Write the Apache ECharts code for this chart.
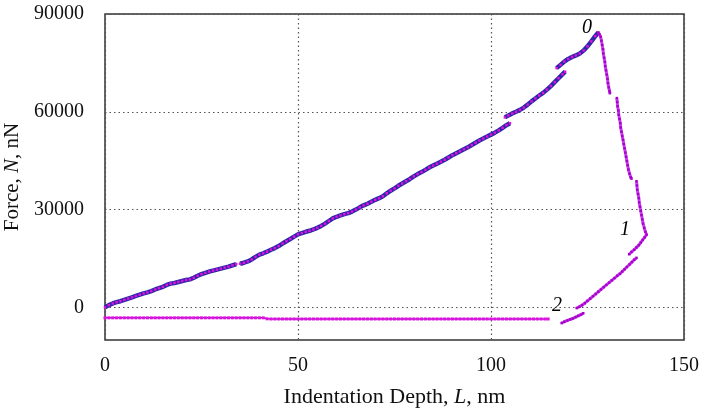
<!DOCTYPE html>
<html>
<head>
<meta charset="utf-8">
<script src="https://cdn.jsdelivr.net/npm/echarts@6/dist/echarts.min.js"></script>
<style>
  html, body { margin: 0; padding: 0; background: #fff; }
  #main { width: 701px; height: 412px; }
</style>
</head>
<body>
<div id="main"></div>
<script>
// loading branch (nm, nN), split where the curve jumps
var loadA = [[0,0],[1,700],[2,1200],[3,1600],[4,1900],[5,2300],[6,2700],[7,3100],[8,3500],[9,3900],[10,4300],[11,4600],[12,5000],[13,5500],[14,5900],[15,6300],[16,6900],[17,7300],[18,7500],[19,7800],[20,8100],[21,8400],[22,8600],[23,9100],[24,9700],[25,10200],[26,10600],[27,11000],[28,11300],[29,11600],[30,11900],[31,12200],[32,12500],[33,12900],[34,13300]];
var loadB = [[35,13400],[36,13700],[37,14100],[38,14700],[39,15500],[40,16200],[41,16600],[42,17100],[43,17700],[44,18200],[45,18800],[46,19600],[47,20300],[48,21000],[49,21700],[50,22400],[51,22800],[52,23200],[53,23500],[54,23900],[55,24400],[56,25000],[57,25700],[58,26500],[59,27300],[60,27800],[61,28200],[62,28600],[63,28900],[64,29400],[65,30000],[66,30700],[67,31300],[68,31800],[69,32400],[70,33000],[71,33500],[72,34100],[73,35000],[74,35800],[75,36500],[76,37300],[77,38000],[78,38700],[79,39400],[80,40200],[81,40900],[82,41500],[83,42200],[84,42900],[85,43500],[86,44100],[87,44700],[88,45300],[89,46000],[90,46700],[91,47300],[92,47900],[93,48500],[94,49100],[95,49800],[96,50500],[97,51200],[98,51800],[99,52400],[100,53000],[101,53600],[102,54300],[103,55100],[104,55900],[104.9,56500]];
var loadC = [[103.6,58300],[104.5,58900],[105.5,59500],[106.5,60000],[107.5,60600],[108.5,61300],[109.5,62200],[110.5,63200],[111.5,64100],[112.5,65000],[113.5,65800],[114.5,66800],[115.5,67900],[116.5,69100],[117.5,70300],[118.5,71500],[119.2,72300]];
var loadD = [[117,73400],[118,74400],[119,75400],[120,76200],[121,76800],[122,77300],[123,77900],[124,78800],[125,80100],[126,81600],[127,83200],[127.8,84300]];

// unloading branch
var unload1 = [[127.8,84300],[128.1,83800],[128.4,83000],[128.6,81800],[128.8,80500],[129.0,79200],[129.1,77900],[129.3,76600],[129.5,75300],[129.6,74000],[129.8,72700],[130.0,71400],[130.2,70100],[130.3,68800],[130.5,67500],[130.7,66400],[130.8,65700]];
var unload2 = [[132.6,64200],[132.7,63000],[132.8,61700],[133.0,60400],[133.1,59100],[133.3,57800],[133.5,56500],[133.6,55200],[133.8,53900],[134.0,52600],[134.2,51400],[134.4,50100],[134.6,48800],[134.8,47500],[135.0,46200],[135.2,44900],[135.4,43600],[135.6,42300],[135.9,41000],[136.2,39900],[136.4,39500]];
var unload3 = [[137.7,38700],[137.8,37400],[137.9,36100],[138.1,34800],[138.3,33500],[138.4,32200],[138.6,30900],[138.8,29600],[139.0,28300],[139.2,27000],[139.4,25700],[139.7,24400],[140.0,23200],[140.3,22300],[139.8,21500],[139.3,20700],[138.8,19900],[138.3,19100],[137.7,18400],[137.1,17700],[136.4,17000],[135.8,16300]];
var unload4 = [[137.7,15200],[137.1,14600],[136.5,13900],[135.9,13200],[135.2,12400],[134.6,11700],[134.0,11000],[133.4,10300],[132.7,9700],[132.0,9000],[131.3,8300],[130.6,7600],[129.9,6900],[129.2,6200],[128.5,5500],[127.8,4800],[127.1,4100],[126.4,3400],[125.7,2700],[125.0,2000],[124.3,1300],[123.6,700],[122.9,200],[122.2,-200]];
var unload5 = [[123.9,-1800],[123.3,-2200],[122.6,-2600],[121.9,-3000],[121.2,-3400],[120.5,-3700],[119.8,-4000],[119.0,-4400],[118.3,-4800]];

// flat baseline
var flat = [[0,-3200],[1,-3200],[2,-3200],[3,-3200],[4,-3200],[5,-3200],[6,-3200],[7,-3200],[8,-3200],[9,-3200],[10,-3200],[11,-3200],[12,-3200],[13,-3200],[14,-3200],[15,-3200],[16,-3200],[17,-3200],[18,-3200],[19,-3200],[20,-3200],[21,-3200],[22,-3200],[23,-3200],[24,-3200],[25,-3200],[26,-3200],[27,-3200],[28,-3200],[29,-3200],[30,-3200],[31,-3200],[32,-3200],[33,-3200],[34,-3200],[35,-3200],[36,-3200],[37,-3200],[38,-3200],[39,-3200],[40,-3200],[41,-3200],[42,-3500],[43,-3550],[44,-3550],[45,-3550],[46,-3550],[47,-3550],[48,-3550],[49,-3550],[50,-3550],[51,-3550],[52,-3550],[53,-3550],[54,-3550],[55,-3550],[56,-3550],[57,-3550],[58,-3550],[59,-3550],[60,-3550],[61,-3550],[62,-3550],[63,-3550],[64,-3550],[65,-3550],[66,-3550],[67,-3550],[68,-3550],[69,-3550],[70,-3550],[71,-3550],[72,-3550],[73,-3550],[74,-3550],[75,-3550],[76,-3550],[77,-3550],[78,-3550],[79,-3550],[80,-3550],[81,-3550],[82,-3550],[83,-3550],[84,-3550],[85,-3550],[86,-3550],[87,-3550],[88,-3550],[89,-3550],[90,-3550],[91,-3550],[92,-3550],[93,-3550],[94,-3550],[95,-3550],[96,-3550],[97,-3550],[98,-3550],[99,-3550],[100,-3550],[101,-3550],[102,-3550],[103,-3550],[104,-3550],[105,-3550],[106,-3550],[107,-3550],[108,-3550],[109,-3550],[110,-3550],[111,-3550],[112,-3550],[113,-3550],[114,-3550],[114.8,-3550]];

// annotations 0, 1, 2
var notes = [[124.9,85700,'0'],[134.7,23900,'1'],[117.1,600,'2']];

var xTicks = [0,50,100,150];
var yTicks = [0,30000,60000,90000];

var FONT = '"Liberation Serif", "DejaVu Serif", serif';
var chart = echarts.init(document.getElementById('main'), null, {renderer:'canvas'});

function seg(data, kind){
  var s = {
    type:'line', data:data, animation:false, silent:true,
    symbol:'rect', symbolSize:2.5, showSymbol:true,
    itemStyle:{color:'#e010e0'}
  };
  if(kind=='load'){
    s.lineStyle = {color:'#2c28a8', width:4.5};
    s.z = 3;
  }else if(kind=='unload'){
    s.lineStyle = {color:'#c030e8', width:3, opacity:0.9};
    s.itemStyle = {color:'#a800cc'};
    s.symbolSize = 2.5;
  }else{
    s.lineStyle = {color:'#9a10c8', width:1.5};
    s.symbolSize = 3;
  }
  return s;
}

var series = [];
[loadA,loadB,loadC,loadD].forEach(function(d){ series.push(seg(d,'load')); });
[unload1,unload2,unload3,unload4,unload5].forEach(function(d){ series.push(seg(d,'unload')); });
series.push(seg(flat,'flat'));
series.push({
  type:'scatter', symbolSize:1, animation:false, silent:true, z:10,
  itemStyle:{opacity:0},
  data:notes.map(function(n){ return {value:[n[0],n[1]], label:{formatter:n[2]}}; }),
  label:{show:true, position:'inside', fontFamily:FONT, fontStyle:'italic', fontSize:20, color:'#000', opacity:1}
});

var option = {
  backgroundColor:'#fff',
  grid:{left:105, right:17, top:14, bottom:72, outerBoundsMode:'none', containLabel:false,
        show:true, borderColor:'#333', borderWidth:1.5, backgroundColor:'transparent'},
  xAxis:{
    type:'value', min:0, max:150, interval:50,
    name:'{a|Indentation Depth, }{i|L}{a|, nm}', nameLocation:'middle', nameGap:46,
    nameTextStyle:{rich:{a:{fontFamily:FONT, fontSize:22, color:'#111'}, i:{fontFamily:FONT, fontSize:22, fontStyle:'italic', color:'#111'}}},
    axisLine:{show:false}, axisTick:{show:false},
    axisLabel:{fontFamily:FONT, fontSize:20, color:'#111', margin:16},
    splitLine:{show:true, lineStyle:{color:'#555', width:1.2, type:[1.5,3]}}
  },
  yAxis:{
    type:'value', min:-10000, max:90000,
    name:'{a|Force, }{i|N}{a|, nN}', nameLocation:'middle', nameGap:80, nameRotate:90,
    nameTextStyle:{rich:{a:{fontFamily:FONT, fontSize:21, color:'#111'}, i:{fontFamily:FONT, fontSize:21, fontStyle:'italic', color:'#111'}}},
    axisLine:{show:false},
    axisTick:{show:false, customValues:yTicks},
    axisLabel:{fontFamily:FONT, fontSize:20, color:'#111', margin:21, customValues:yTicks,
               formatter:function(v){ return String(v); }},
    splitLine:{show:true, lineStyle:{color:'#555', width:1.2, type:[1.5,3]}}
  },
  series:series
};
chart.setOption(option);
</script>
</body>
</html>
